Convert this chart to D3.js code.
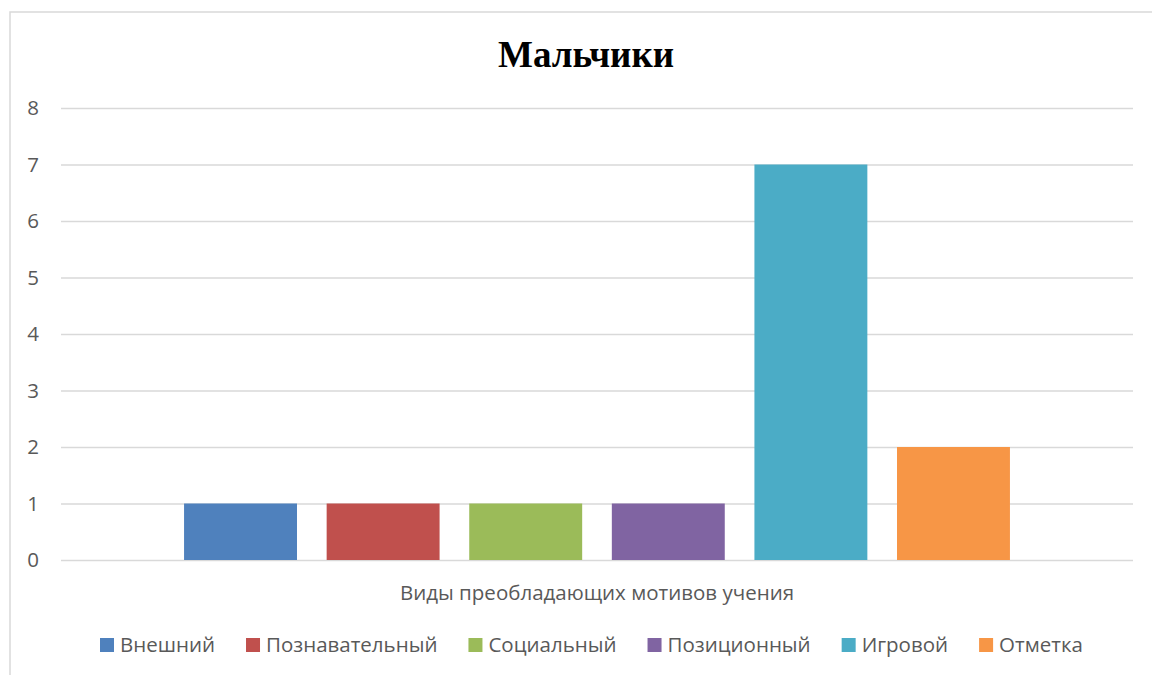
<!DOCTYPE html>
<html>
<head>
<meta charset="utf-8">
<script src="https://cdn.jsdelivr.net/npm/d3@7"></script>
<style>
  body { margin: 0; background: #fff; }
  svg { display: block; }
</style>
</head>
<body>
<svg id="chart" width="1152" height="675"></svg>
<script>
const categories = ['Виды преобладающих мотивов учения'];
const seriesNames = ['Внешний', 'Познавательный', 'Социальный', 'Позиционный', 'Игровой', 'Отметка'];
const seriesValues = [1, 1, 1, 1, 7, 2];
const seriesColors = ['#4f81bd', '#c0504d', '#9bbb59', '#8064a2', '#4bacc6', '#f79646'];
const yTicks = [0, 1, 2, 3, 4, 5, 6, 7, 8];

const svg = d3.select('#chart');
const font = '"Open Sans", "Noto Sans", sans-serif';
const margin = {top: 108, right: 19, bottom: 115, left: 61};
const width = 1152, height = 675;
const chartWidth = width - margin.left - margin.right;
const chartHeight = height - margin.top - margin.bottom;

// Chart border
svg.append('rect')
  .attr('x', 10).attr('y', 12)
  .attr('width', 1160).attr('height', 700)
  .attr('fill', 'none')
  .attr('stroke', '#d9d9d9')
  .attr('stroke-width', 1.5);

// Title
svg.append('text')
  .attr('x', 586).attr('y', 67)
  .attr('text-anchor', 'middle')
  .attr('font-family', '"Liberation Serif", "Times New Roman", serif')
  .attr('font-weight', 'bold')
  .attr('font-size', '37px')
  .attr('fill', '#000')
  .text('Мальчики');

const g = svg.append('g').attr('transform', `translate(${margin.left},${margin.top})`);

// Scales
const x0 = d3.scaleBand().domain(categories).range([0, chartWidth]).paddingInner(0).paddingOuter(0.149);
const x1 = d3.scaleBand().domain(seriesNames).range([0, x0.bandwidth()]).paddingInner(0.208);
const y = d3.scaleLinear().domain([0, 8]).range([chartHeight, 0]);

// Grid lines
g.append('g')
  .call(d3.axisLeft(y).tickValues(yTicks).tickSize(-chartWidth).tickFormat(''))
  .call(s => s.select('.domain').remove())
  .call(s => s.selectAll('line').attr('stroke', '#d9d9d9').attr('stroke-width', 1.5));

// Y labels
g.append('g')
  .call(d3.axisLeft(y).tickValues(yTicks).tickSize(0).tickPadding(28))
  .call(s => s.select('.domain').remove())
  .call(s => s.selectAll('text')
    .attr('font-family', font)
    .attr('font-size', '20.5px')
    .attr('fill', '#595959')
    .attr('text-anchor', 'middle'));

// Bars
const cat = g.selectAll('.cat')
  .data(categories)
  .enter().append('g')
  .attr('transform', d => `translate(${x0(d)},0)`);

cat.selectAll('rect')
  .data(seriesNames.map((s, i) => ({name: s, value: seriesValues[i], color: seriesColors[i]})))
  .enter().append('rect')
  .attr('x', d => x1(d.name))
  .attr('y', d => y(d.value))
  .attr('width', x1.bandwidth())
  .attr('height', d => y(0) - y(d.value))
  .attr('fill', d => d.color);

// X axis category label
g.append('g')
  .attr('transform', `translate(0,${chartHeight})`)
  .call(d3.axisBottom(x0).tickSize(0).tickPadding(25))
  .call(s => s.select('.domain').remove())
  .call(s => s.selectAll('text')
    .attr('font-family', font)
    .attr('font-size', '20.5px')
    .attr('fill', '#595959'));

// Legend
const legend = svg.append('g').attr('transform', 'translate(100,645)');
let lx = 0;
seriesNames.forEach((name, i) => {
  const item = legend.append('g').attr('transform', `translate(${lx},0)`);
  item.append('rect')
    .attr('x', 0).attr('y', -7)
    .attr('width', 14).attr('height', 14)
    .attr('fill', seriesColors[i]);
  const t = item.append('text')
    .attr('x', 20).attr('y', 0)
    .attr('dy', '0.35em')
    .attr('font-family', font)
    .attr('font-size', '20.5px')
    .attr('fill', '#595959')
    .text(name);
  lx += 20 + t.node().getComputedTextLength() + 31;
});
</script>
</body>
</html>
